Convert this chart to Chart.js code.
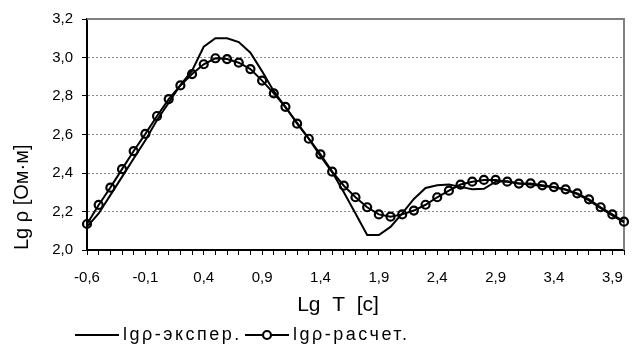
<!DOCTYPE html>
<html>
<head>
<meta charset="utf-8">
<script src="https://cdn.jsdelivr.net/npm/chart.js@4"></script>
<style>
  body { margin: 0; background: #fff; overflow: hidden; }
</style>
</head>
<body>
<canvas id="chart" width="638" height="349"></canvas>
<script>
// Lg T categories, -0.6 .. 4.0
const lgT = [-0.6, -0.5, -0.4, -0.3, -0.2, -0.1, 0.0, 0.1, 0.2, 0.3,
    0.4, 0.5, 0.6, 0.7, 0.8, 0.9, 1.0, 1.1, 1.2, 1.3,
    1.4, 1.5, 1.6, 1.7, 1.8, 1.9, 2.0, 2.1, 2.2, 2.3,
    2.4, 2.5, 2.6, 2.7, 2.8, 2.9, 3.0, 3.1, 3.2, 3.3,
    3.4, 3.5, 3.6, 3.7, 3.8, 3.9, 4.0];

// experimental curve
const rhoExp = [2.12, 2.19, 2.285, 2.38, 2.475, 2.57, 2.675, 2.765, 2.857, 2.932,
    3.056, 3.1, 3.1, 3.08, 3.025, 2.928, 2.825, 2.741, 2.66, 2.578,
    2.487, 2.405, 2.3, 2.19, 2.078, 2.078, 2.12, 2.19, 2.265, 2.322,
    2.336, 2.34, 2.328, 2.316, 2.318, 2.355, 2.357, 2.345, 2.34, 2.333,
    2.326, 2.313, 2.29, 2.258, 2.218, 2.18, 2.143];

// calculated curve
const rhoCalc = [2.135, 2.234, 2.324, 2.42, 2.514, 2.603, 2.696, 2.784, 2.855, 2.914,
    2.965, 2.996, 2.992, 2.973, 2.94, 2.88, 2.814, 2.744, 2.656, 2.578,
    2.497, 2.407, 2.334, 2.274, 2.222, 2.185, 2.173, 2.185, 2.205, 2.235,
    2.274, 2.308, 2.34, 2.355, 2.364, 2.364, 2.355, 2.345, 2.346, 2.336,
    2.327, 2.315, 2.294, 2.263, 2.222, 2.185, 2.147];

const seriesNames = ['lgρ-экспер.', 'lgρ-расчет.'];

const FONT = '"Liberation Sans", Arial, sans-serif';
const fmt = v => Number(v).toFixed(1).replace('.', ',');

const canvas = document.getElementById('chart');
// the original picture is a bit stretched sideways, so the text is spaced out
canvas.getContext('2d').letterSpacing = '1px';

// gray frame on top / right of the plot area
const framePlugin = {
    id: 'frame',
    beforeDatasetsDraw(chart) {
        const { ctx, chartArea: a } = chart;
        ctx.save();
        ctx.strokeStyle = '#808080';
        ctx.lineWidth = 2;
        ctx.beginPath();
        ctx.moveTo(a.left, a.top);
        ctx.lineTo(a.right, a.top);
        ctx.lineTo(a.right, a.bottom);
        ctx.stroke();
        ctx.restore();
    }
};

// legend: line sample, optional marker, text
const legendX = [75, 245];
const legendPlugin = {
    id: 'legendLine',
    afterDraw(chart) {
        const ctx = chart.ctx;
        const y = 335;
        ctx.save();
        ctx.font = '18px ' + FONT;
        ctx.letterSpacing = '2.5px';
        ctx.textBaseline = 'middle';
        chart.data.datasets.forEach((ds, i) => {
            const x = legendX[i];
            ctx.strokeStyle = '#000';
            ctx.lineWidth = 2;
            ctx.beginPath();
            ctx.moveTo(x, y);
            ctx.lineTo(x + 44, y);
            ctx.stroke();
            if (ds.pointRadius > 0) {
                ctx.beginPath();
                ctx.fillStyle = '#fff';
                ctx.lineWidth = ds.pointBorderWidth;
                ctx.arc(x + 22, y, ds.pointRadius, 0, Math.PI * 2);
                ctx.fill();
                ctx.stroke();
            }
            ctx.fillStyle = '#000';
            ctx.fillText(ds.label, x + 48, y);
        });
        ctx.restore();
    }
};

new Chart(canvas, {
    type: 'line',
    data: {
        labels: lgT.map(fmt),
        datasets: [{
            label: seriesNames[0],
            data: rhoExp,
            borderColor: '#000',
            borderWidth: 2,
            pointRadius: 0,
            tension: 0
        }, {
            label: seriesNames[1],
            data: rhoCalc,
            borderColor: '#000',
            borderWidth: 2,
            pointRadius: 4,
            pointBorderWidth: 2.2,
            pointBorderColor: '#000',
            pointBackgroundColor: 'rgba(0,0,0,0)',
            tension: 0,
            clip: false
        }]
    },
    options: {
        responsive: false,
        animation: false,
        layout: { padding: { top: 19, right: 2, bottom: 31, left: 0 } },
        plugins: {
            legend: { display: false },
            tooltip: { enabled: false }
        },
        scales: {
            x: {
                ticks: {
                    autoSkip: false,
                    maxRotation: 0,
                    padding: 14,
                    color: '#000',
                    font: { family: FONT, size: 15 },
                    callback: function (val, i) { return i % 5 === 0 ? this.getLabelForValue(val) : ''; }
                },
                grid: { drawOnChartArea: false, tickColor: '#000', tickLength: 5, tickWidth: 1 },
                border: { color: '#000', width: 2 },
                title: {
                    display: true,
                    text: 'Lg  T  [c]\u00a0\u00a0\u00a0\u00a0\u00a0\u00a0',
                    color: '#000',
                    font: { family: FONT, size: 21 },
                    padding: { top: 0, bottom: 0 }
                },
                afterFit: s => { s.height = 68; }
            },
            y: {
                min: 2.0,
                max: 3.2,
                ticks: {
                    stepSize: 0.2,
                    padding: 9,
                    color: '#000',
                    font: { family: FONT, size: 15 },
                    callback: v => fmt(v)
                },
                grid: {
                    color: c => (c.tick && (Math.abs(c.tick.value - 2.0) < 1e-6 || Math.abs(c.tick.value - 3.2) < 1e-6)) ? 'rgba(0,0,0,0)' : '#8a8a8a',
                    lineWidth: 1,
                    tickColor: '#000',
                    tickLength: 5
                },
                border: { color: '#000', width: 2, dash: [2, 2] },
                title: {
                    display: true,
                    text: 'Lg ρ [Ом·м]',
                    align: 'start',
                    color: '#000',
                    font: { family: FONT, size: 20 },
                    padding: { top: 10, bottom: 0 }
                },
                afterFit: s => { s.width = 87; }
            }
        }
    },
    plugins: [framePlugin, legendPlugin]
});
</script>
</body>
</html>
